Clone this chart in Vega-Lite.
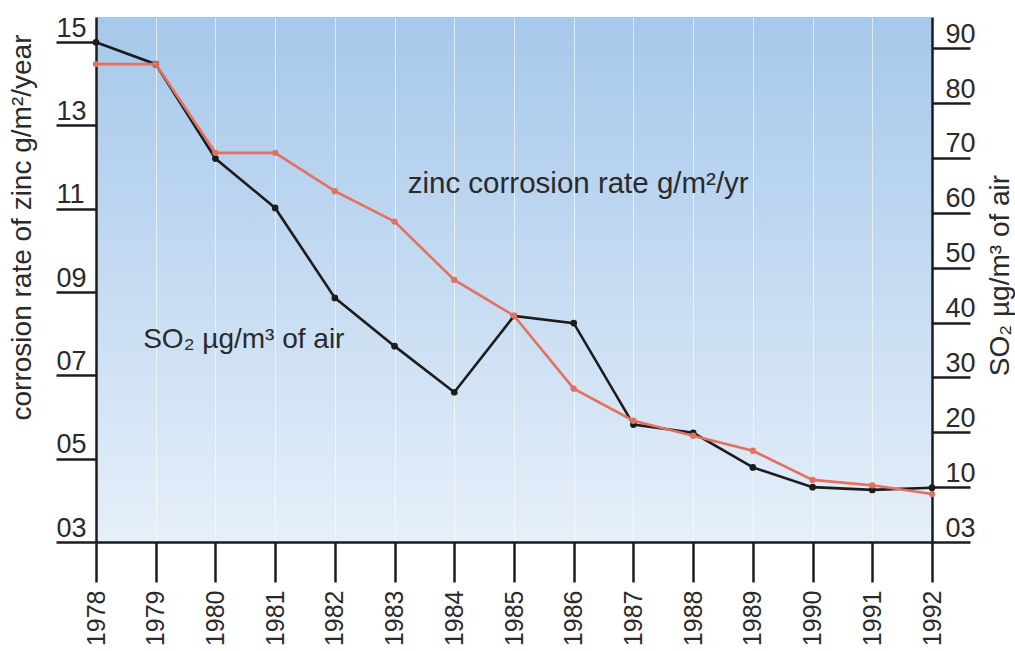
{
  "$schema": "https://vega.github.io/schema/vega-lite/v6.json",
  "width": 836,
  "height": 525,
  "autosize": {"type": "none"},
  "padding": {"left": 96, "top": 17, "right": 83, "bottom": 109},
  "background": "white",
  "config": {
    "font": "Liberation Sans",
    "view": {
      "stroke": null,
      "fill": {"gradient": "linear", "x1": 0, "y1": 0, "x2": 0, "y2": 1,
        "stops": [{"offset": 0, "color": "#a6c8ea"}, {"offset": 0.5, "color": "#c5dbf2"}, {"offset": 1, "color": "#e6eff9"}]}
    },
    "axis": {
      "domainColor": "#1c1c1c", "domainWidth": 2.5,
      "tickColor": "#1c1c1c", "tickWidth": 2.5,
      "labelFont": "Liberation Sans", "labelFontSize": 27, "labelColor": "#2a2a2a",
      "titleFont": "Liberation Sans", "titleFontSize": 28, "titleFontWeight": "normal", "titleColor": "#2a2a2a",
      "labelOverlap": false, "labelFlush": false
    }
  },
  "datasets": {
    "series": [
      {"year": 1978, "zinc": 14.47, "so2": 91.1},
      {"year": 1979, "zinc": 14.47, "so2": 87.1},
      {"year": 1980, "zinc": 12.34, "so2": 69.9},
      {"year": 1981, "zinc": 12.34, "so2": 60.9},
      {"year": 1982, "zinc": 11.42, "so2": 44.5},
      {"year": 1983, "zinc": 10.69, "so2": 35.7},
      {"year": 1984, "zinc": 9.29, "so2": 27.3},
      {"year": 1985, "zinc": 8.43, "so2": 41.2},
      {"year": 1986, "zinc": 6.68, "so2": 39.9},
      {"year": 1987, "zinc": 5.91, "so2": 21.4},
      {"year": 1988, "zinc": 5.55, "so2": 19.9},
      {"year": 1989, "zinc": 5.19, "so2": 13.6},
      {"year": 1990, "zinc": 4.49, "so2": 10.0},
      {"year": 1991, "zinc": 4.36, "so2": 9.5},
      {"year": 1992, "zinc": 4.15, "so2": 9.9}
    ],
    "notes": [
      {"year": 1983.22, "value": 11.38, "text": "zinc corrosion rate g/m²/yr", "size": "big"},
      {"year": 1978.79, "value": 7.66, "text": "SO₂ µg/m³ of air", "size": "small"}
    ]
  },
  "data": {"name": "series"},
  "encoding": {
    "x": {
      "field": "year", "type": "quantitative",
      "scale": {"domain": [1978, 1992], "nice": false, "zero": false},
      "axis": {
        "values": [1978, 1979, 1980, 1981, 1982, 1983, 1984, 1985, 1986, 1987, 1988, 1989, 1990, 1991, 1992],
        "format": "d", "labelAngle": 270, "tickSize": 40, "labelPadding": 8, "labelFontSize": 25,
        "grid": true, "gridColor": "#ffffff", "gridOpacity": 0.6, "gridWidth": 1,
        "title": null
      }
    }
  },
  "layer": [
    {
      "layer": [
        {
          "mark": {"type": "line", "color": "#1c1c1c", "strokeWidth": 2.6,
            "point": {"filled": true, "size": 45, "color": "#1c1c1c"}},
          "encoding": {
            "y": {
              "field": "so2", "type": "quantitative",
              "scale": {"domain": [0, 95.7], "nice": false, "zero": false},
              "axis": {
                "orient": "right",
                "values": [0, 10, 20, 30, 40, 50, 60, 70, 80, 90],
                "labelExpr": "datum.value == 0 ? '03' : datum.label",
                "tickSize": 38, "labelPadding": -25, "labelAlign": "left",
                "labelBaseline": "alphabetic", "labelOffset": -6, "grid": false,
                "title": "SO₂ µg/m³ of air", "titleAngle": 270, "titleX": 68, "titleY": 258,
                "titleAlign": "center", "titleBaseline": "middle"
              }
            }
          }
        }
      ]
    },
    {
      "layer": [
        {
          "mark": {"type": "line", "color": "#e2725f", "strokeWidth": 2.6,
            "point": {"filled": true, "size": 40, "color": "#e2725f"}},
          "encoding": {
            "y": {
              "field": "zinc", "type": "quantitative",
              "scale": {"domain": [3, 15.6], "nice": false, "zero": false},
              "axis": {
                "orient": "left",
                "values": [3, 5, 7, 9, 11, 13, 15],
                "labelExpr": "datum.value < 10 ? '0' + datum.value : '' + datum.value",
                "tickSize": 40, "labelPadding": 0, "labelAlign": "left",
                "labelBaseline": "alphabetic", "labelOffset": -6, "grid": false,
                "title": "corrosion rate of zinc g/m²/year", "titleAngle": 270, "titleX": -74, "titleY": 210,
                "titleAlign": "center", "titleBaseline": "middle"
              }
            }
          }
        },
        {
          "data": {"name": "notes"},
          "mark": {"type": "text", "align": "left", "baseline": "alphabetic", "color": "#2a2a2a", "font": "Liberation Sans"},
          "encoding": {
            "y": {"field": "value", "type": "quantitative"},
            "text": {"field": "text"},
            "size": {"field": "size", "type": "nominal", "scale": {"domain": ["big", "small"], "range": [29.5, 28]}, "legend": null}
          }
        }
      ]
    }
  ],
  "resolve": {"scale": {"y": "independent"}}
}
